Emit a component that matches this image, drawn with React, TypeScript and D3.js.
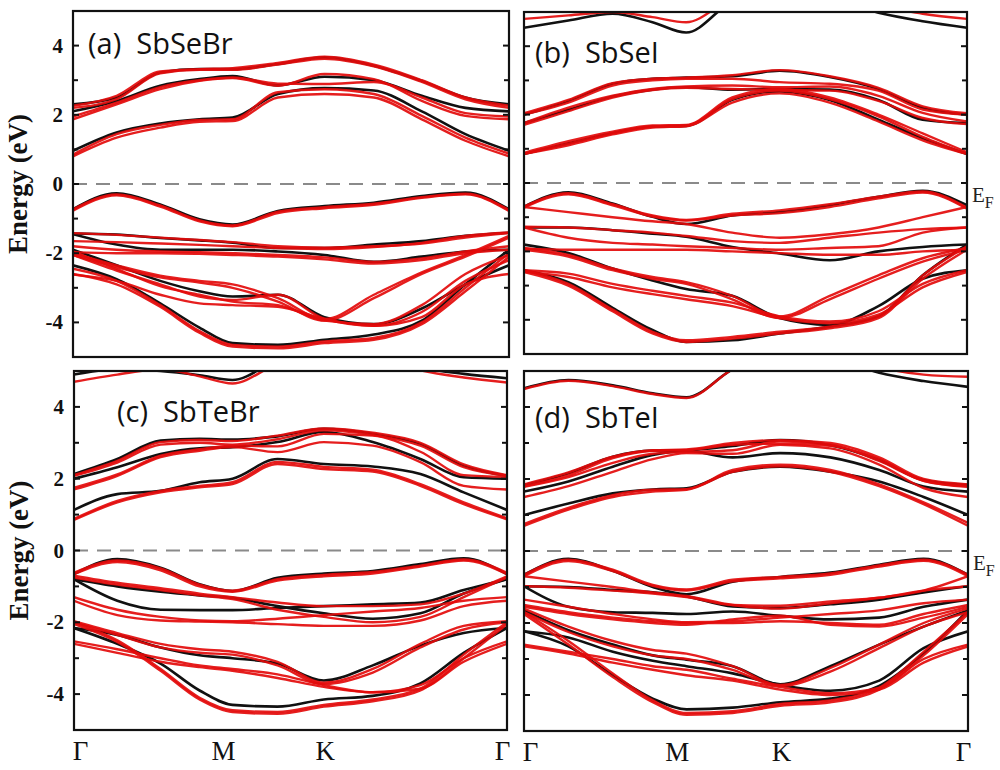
import React from "react";
import * as d3 from "d3";

// k-path sample points (fraction of Γ-M-K-Γ path)
const kPts = [0, 0.1, 0.2, 0.29, 0.366, 0.47, 0.577, 0.69, 0.8, 0.9, 1];
const kLabels = ["Γ", "M", "K", "Γ"];
const kLabelPos = [0.015, 0.345, 0.58, 0.99];
const yTickLabels = [4, 2, 0, -2, -4];

// (a) SbSeBr
const aBlack = [
  [0.96, 1.49, 1.75, 1.87, 1.92, 2.6, 2.77, 2.7, 2.1, 1.44, 0.96],
  [2.1, 2.4, 2.84, 3.03, 3.12, 2.85, 3.1, 3.0, 2.55, 2.2, 2.1],
  [2.3, 2.5, 3.22, 3.32, 3.32, 3.47, 3.66, 3.42, 2.98, 2.5, 2.3],
  [-0.73, -0.27, -0.59, -1.02, -1.17, -0.78, -0.64, -0.54, -0.35, -0.25, -0.73],
  [-1.43, -1.46, -1.56, -1.63, -1.7, -1.85, -1.85, -1.75, -1.65, -1.5, -1.41],
  [-1.45, -1.75, -1.9, -1.9, -1.9, -1.95, -2.05, -2.25, -2.1, -1.95, -1.9],
  [-1.9, -2.35, -2.8, -3.1, -3.25, -3.2, -3.85, -4.05, -3.6, -2.9, -2.35],
  [-2.35, -2.75, -3.45, -4.15, -4.6, -4.65, -4.5, -4.35, -3.95, -2.9, -1.9],
];
const aRed = [
  [0.8, 1.34, 1.63, 1.8, 1.82, 2.5, 2.6, 2.5, 1.87, 1.25, 0.8],
  [0.85, 1.44, 1.71, 1.85, 1.87, 2.65, 2.74, 2.6, 1.97, 1.34, 0.88],
  [1.87, 2.3, 2.74, 2.98, 3.06, 2.84, 3.18, 3.03, 2.4, 1.97, 1.87],
  [1.95, 2.35, 2.8, 3.0, 3.08, 2.9, 2.89, 2.95, 2.5, 2.05, 1.95],
  [2.26, 2.55, 3.25, 3.32, 3.35, 3.5, 3.68, 3.45, 3.0, 2.5, 2.26],
  [2.2, 2.45, 3.2, 3.3, 3.3, 3.45, 3.62, 3.4, 2.95, 2.45, 2.2],
  [-0.73, -0.3, -0.62, -1.05, -1.2, -0.8, -0.67, -0.57, -0.38, -0.28, -0.75],
  [-0.77, -0.33, -0.65, -1.08, -1.22, -0.84, -0.7, -0.6, -0.4, -0.3, -0.78],
  [-1.42, -1.47, -1.55, -1.62, -1.68, -1.8, -1.84, -1.8, -1.72, -1.55, -1.42],
  [-1.65, -1.68, -1.72, -1.76, -1.8, -1.85, -1.88, -1.82, -1.7, -1.5, -1.4],
  [-1.8, -1.9, -1.95, -1.97, -2.0, -2.05, -2.12, -2.25, -2.15, -1.95, -1.8],
  [-1.97, -2.0, -2.0, -2.02, -2.05, -2.1, -2.18, -2.3, -2.2, -2.0, -1.9],
  [-1.95, -2.45, -2.95, -3.2, -3.4, -3.5, -3.95, -4.05, -3.5, -2.6, -2.05],
  [-2.05, -2.5, -2.9, -3.25, -3.35, -3.2, -3.9, -4.1, -3.7, -2.8, -2.2],
  [-2.0, -2.35, -2.65, -2.8, -2.9, -3.3, -3.9, -3.2, -2.55, -2.05, -1.5],
  [-2.05, -2.4, -2.7, -2.85, -3.0, -3.4, -3.95, -3.3, -2.6, -2.1, -1.55],
  [-2.45, -2.8, -3.5, -4.25, -4.65, -4.7, -4.55, -4.45, -4.0, -3.0, -2.0],
  [-2.6, -2.9, -3.55, -4.3, -4.7, -4.75, -4.6, -4.5, -4.05, -3.1, -2.1],
  [-2.62, -2.8, -3.2, -3.45, -3.5, -3.55, -3.9, -4.1, -3.85, -2.9, -2.6],
];

// (b) SbSeI
const bBlack = [
  [4.54, 4.75, 4.95, 4.7, 4.4, 5.3, 5.6, 5.4, 4.98, 4.73, 4.54],
  [0.85, 1.16, 1.46, 1.65, 1.67, 2.43, 2.68, 2.43, 1.85, 1.31, 0.85],
  [1.75, 2.14, 2.53, 2.73, 2.8, 2.73, 2.75, 2.73, 2.43, 1.85, 1.75],
  [2.0, 2.4, 2.9, 3.05, 3.08, 3.12, 3.28, 3.1, 2.75, 2.2, 2.0],
  [-0.69, -0.27, -0.6, -0.99, -1.2, -0.95, -0.85, -0.65, -0.4, -0.23, -0.65],
  [-1.3, -1.3, -1.38, -1.48, -1.57, -1.87, -2.06, -2.26, -2.0, -1.87, -1.8],
  [-1.8, -2.05, -2.5, -2.85, -3.1, -3.3, -3.95, -4.15, -3.6, -2.8, -2.55],
  [-2.55, -2.9, -3.65, -4.3, -4.65, -4.6, -4.4, -4.2, -3.9, -2.7, -1.8],
];
const bRed = [
  [4.8, 4.9, 5.0, 4.85, 4.7, 5.4, 5.7, 5.5, 5.2, 4.95, 4.8],
  [0.85, 1.15, 1.45, 1.65, 1.68, 2.45, 2.7, 2.45, 1.95, 1.35, 0.85],
  [0.88, 1.22, 1.5, 1.68, 1.7, 2.5, 2.75, 2.5, 2.0, 1.45, 0.9],
  [0.85, 1.1, 1.42, 1.62, 1.66, 2.35, 2.62, 2.35, 1.8, 1.25, 0.85],
  [1.7, 2.1, 2.5, 2.72, 2.78, 2.75, 2.72, 2.7, 2.4, 1.9, 1.72],
  [1.75, 2.2, 2.55, 2.75, 2.82, 2.85, 2.8, 2.82, 2.55, 2.05, 1.8],
  [2.04, 2.43, 2.92, 3.05, 3.08, 3.15, 3.3, 3.12, 2.78, 2.24, 2.04],
  [2.0, 2.35, 2.85, 3.0, 3.05, 3.05, 2.95, 2.9, 2.7, 2.15, 2.0],
  [-0.69, -0.3, -0.62, -0.95, -1.08, -0.9, -0.8, -0.62, -0.4, -0.25, -0.72],
  [-0.72, -0.33, -0.65, -0.98, -1.1, -0.95, -0.88, -0.7, -0.45, -0.28, -0.75],
  [-0.7, -0.85, -1.0, -1.12, -1.2, -1.45, -1.6, -1.5, -1.3, -1.0, -0.7],
  [-1.28, -1.3, -1.38, -1.45, -1.55, -1.7, -1.75, -1.6, -1.45, -1.35, -1.3],
  [-1.3, -1.6, -1.75, -1.8, -1.85, -1.9, -1.95, -1.9, -1.85, -1.45, -1.3],
  [-1.92, -1.95, -1.95, -1.95, -1.95, -2.0, -2.05, -2.1, -2.1, -2.0, -1.95],
  [-1.9, -2.1, -2.5, -2.75, -2.9, -3.3, -3.9, -3.3, -2.7, -2.2, -1.9],
  [-1.95, -2.15, -2.55, -2.8, -2.95, -3.4, -3.95, -3.4, -2.8, -2.3, -1.95],
  [-2.55, -2.65, -2.95, -3.15, -3.3, -3.5, -3.9, -4.05, -3.75, -2.95, -2.55],
  [-2.6, -2.75, -3.05, -3.25, -3.4, -3.6, -3.95, -4.1, -3.85, -3.05, -2.6],
  [-2.55, -2.95, -3.7, -4.35, -4.6, -4.5, -4.35, -4.2, -3.9, -2.7, -1.85],
  [-2.6, -3.0, -3.75, -4.4, -4.65, -4.55, -4.4, -4.25, -3.95, -2.8, -1.95],
];

// (c) SbTeBr
const cBlack = [
  [4.9, 5.05, 5.0, 4.88, 4.75, 5.3, 5.6, 5.5, 5.1, 4.92, 4.8],
  [1.13, 1.57, 1.66, 1.9, 2.0, 2.55, 2.41, 2.34, 2.13, 1.62, 1.13],
  [2.0, 2.32, 2.69, 2.85, 2.88, 3.02, 3.3, 3.02, 2.55, 2.04, 2.0],
  [2.13, 2.55, 3.06, 3.11, 3.09, 3.18, 3.39, 3.25, 2.97, 2.36, 2.08],
  [-0.66, -0.24, -0.48, -0.94, -1.13, -0.76, -0.64, -0.57, -0.38, -0.22, -0.66],
  [-0.8, -1.0, -1.15, -1.25, -1.32, -1.55, -1.75, -1.9, -1.75, -1.2, -0.8],
  [-0.8, -1.4, -1.65, -1.66, -1.66, -1.6, -1.55, -1.5, -1.45, -1.1, -0.8],
  [-2.16, -2.35, -2.7, -2.92, -3.0, -3.15, -3.62, -3.2, -2.65, -2.3, -2.16],
  [-2.16, -2.6, -3.15, -3.9, -4.3, -4.35, -4.15, -4.05, -3.7, -2.85, -2.16],
];
const cRed = [
  [4.7, 4.9, 5.05, 4.85, 4.65, 5.2, 5.5, 5.4, 5.02, 4.82, 4.68],
  [0.85, 1.34, 1.62, 1.76, 1.85, 2.41, 2.27, 2.2, 1.8, 1.29, 0.87],
  [0.88, 1.38, 1.66, 1.8, 1.9, 2.47, 2.33, 2.25, 1.85, 1.34, 0.9],
  [1.7, 2.08, 2.6, 2.78, 2.88, 2.74, 3.02, 2.92, 2.46, 1.8, 1.7],
  [1.75, 2.12, 2.64, 2.82, 2.92, 2.9, 3.25, 3.2, 2.75, 2.1, 2.05],
  [2.1, 2.5, 3.02, 3.08, 3.05, 3.2, 3.4, 3.28, 3.0, 2.4, 2.1],
  [2.08, 2.45, 2.95, 3.0, 2.95, 3.1, 3.35, 3.22, 2.92, 2.32, 2.08],
  [-0.62, -0.28, -0.5, -0.95, -1.12, -0.8, -0.68, -0.6, -0.42, -0.25, -0.62],
  [-0.66, -0.32, -0.55, -1.0, -1.15, -0.84, -0.72, -0.64, -0.45, -0.28, -0.66],
  [-0.7, -0.9, -1.05, -1.2, -1.3, -1.45, -1.55, -1.55, -1.5, -1.2, -0.72],
  [-0.75, -0.95, -1.1, -1.25, -1.35, -1.65, -1.85, -2.0, -1.85, -1.3, -0.75],
  [-1.3, -1.65, -1.85, -1.95, -1.97, -1.9, -1.8, -1.7, -1.6, -1.4, -1.3],
  [-1.4, -1.8, -1.95, -1.98, -2.0, -2.05, -2.1, -2.1, -1.95, -1.55, -1.4],
  [-1.97, -2.3, -2.6, -2.75, -2.82, -3.1, -3.68, -3.3, -2.6, -2.1, -1.97],
  [-2.0, -2.35, -2.7, -2.85, -2.9, -3.2, -3.72, -3.4, -2.7, -2.2, -2.0],
  [-2.53, -2.75, -3.0, -3.2, -3.3, -3.45, -3.75, -3.95, -3.75, -3.0, -2.53],
  [-2.6, -2.85, -3.1, -3.25, -3.35, -3.55, -3.8, -3.95, -3.85, -3.1, -2.6],
  [-2.0, -2.5, -3.3, -4.1, -4.45, -4.5, -4.3, -4.15, -3.85, -2.9, -2.0],
  [-2.05, -2.55, -3.35, -4.15, -4.5, -4.55, -4.35, -4.2, -3.9, -3.0, -2.05],
];

// (d) SbTeI
const dBlack = [
  [4.52, 4.75, 4.6, 4.38, 4.27, 5.05, 5.6, 5.4, 4.95, 4.72, 4.56],
  [1.0, 1.32, 1.6, 1.71, 1.74, 2.2, 2.34, 2.2, 1.93, 1.5, 1.0],
  [1.65, 1.93, 2.34, 2.67, 2.78, 2.6, 2.72, 2.6, 2.25, 1.79, 1.65],
  [1.83, 2.16, 2.62, 2.79, 2.8, 2.92, 3.08, 2.94, 2.53, 1.97, 1.83],
  [-0.66, -0.22, -0.55, -1.0, -1.2, -0.85, -0.72, -0.6, -0.38, -0.22, -0.66],
  [-0.98, -1.0, -1.08, -1.15, -1.26, -1.54, -1.58, -1.48, -1.35, -1.15, -0.98],
  [-0.98, -1.55, -1.7, -1.72, -1.75, -1.68, -1.8, -1.9, -1.85, -1.55, -1.35],
  [-1.65, -2.2, -2.6, -2.9, -3.02, -3.2, -3.7, -3.2, -2.6, -2.1, -1.65],
  [-2.23, -2.65, -3.45, -4.1, -4.4, -4.35, -4.2, -4.1, -3.75, -2.85, -1.65],
  [-2.23, -2.4, -2.8, -3.05, -3.2, -3.4, -3.72, -3.88, -3.6, -2.7, -2.23],
];
const dRed = [
  [4.5, 4.73, 4.58, 4.36, 4.25, 5.05, 5.6, 5.5, 5.1, 4.9, 4.84],
  [0.7, 1.15, 1.5, 1.65, 1.7, 2.2, 2.35, 2.2, 1.8, 1.3, 0.7],
  [0.75, 1.2, 1.55, 1.7, 1.72, 2.25, 2.4, 2.25, 1.85, 1.35, 0.78],
  [1.5, 1.8, 2.2, 2.55, 2.72, 2.7, 2.95, 2.85, 2.4, 1.75, 1.5],
  [1.78, 2.05, 2.45, 2.7, 2.75, 2.8, 3.05, 2.95, 2.5, 1.95, 1.78],
  [1.85, 2.18, 2.62, 2.8, 2.82, 3.0, 3.08, 3.0, 2.6, 2.0, 1.85],
  [1.8, 2.1, 2.58, 2.78, 2.8, 2.95, 2.98, 2.92, 2.55, 1.95, 1.8],
  [-0.66, -0.24, -0.52, -0.94, -1.07, -0.8, -0.72, -0.62, -0.4, -0.24, -0.66],
  [-0.7, -0.28, -0.56, -0.97, -1.1, -0.84, -0.76, -0.66, -0.43, -0.27, -0.7],
  [-0.7, -0.85, -1.0, -1.15, -1.25, -1.5, -1.6, -1.45, -1.3, -1.1, -0.7],
  [-0.98, -1.02, -1.1, -1.18, -1.28, -1.5, -1.52, -1.4, -1.3, -1.1, -0.98],
  [-1.35, -1.55, -1.75, -1.9, -1.98, -1.95, -1.85, -1.75, -1.65, -1.45, -1.35],
  [-1.5, -1.7, -1.85, -1.95, -2.0, -2.0, -1.95, -2.0, -2.05, -1.75, -1.5],
  [-1.55, -1.75, -1.9, -2.0, -2.05, -1.9, -1.8, -2.05, -2.1, -1.85, -1.55],
  [-1.6, -2.1, -2.5, -2.75, -2.85, -3.2, -3.72, -3.25, -2.6, -2.0, -1.6],
  [-1.7, -2.25, -2.65, -2.9, -3.0, -3.3, -3.75, -3.35, -2.7, -2.1, -1.7],
  [-2.6, -2.8, -3.0, -3.2, -3.3, -3.55, -3.78, -3.95, -3.8, -3.0, -2.6],
  [-2.65, -2.85, -3.1, -3.3, -3.45, -3.6, -3.85, -4.0, -3.85, -3.1, -2.65],
  [-1.7, -2.5, -3.4, -4.15, -4.5, -4.45, -4.25, -4.15, -3.8, -2.8, -1.7],
  [-1.75, -2.6, -3.5, -4.2, -4.55, -4.5, -4.3, -4.2, -3.85, -2.9, -1.75],
];

const serif = "'Liberation Serif', 'Times New Roman', serif";
const sans = "'Open Sans', 'Noto Sans', sans-serif";

const panels = [
  { id: "a", title: "(a)  SbSeBr", x0: 73, x1: 509, y0: 11, y1: 357, tx: 88, ty: 54, black: aBlack, red: aRed, left: true, ef: false, bottom: false },
  { id: "b", title: "(b)  SbSeI", x0: 524, x1: 967, y0: 12, y1: 354, tx: 535, ty: 63, black: bBlack, red: bRed, left: false, ef: true, bottom: false },
  { id: "c", title: "(c)  SbTeBr", x0: 74, x1: 507, y0: 371, y1: 730, tx: 117, ty: 422, black: cBlack, red: cRed, left: true, ef: false, bottom: true },
  { id: "d", title: "(d)  SbTeI", x0: 524, x1: 968, y0: 371, y1: 731, tx: 535, ty: 428, black: dBlack, red: dRed, left: false, ef: true, bottom: true },
];

function Panel({ p }: { p: any }) {
  const x = d3.scaleLinear().domain([0, 1]).range([p.x0, p.x1]);
  const y = d3.scaleLinear().domain([-5, 5]).range([p.y1, p.y0]);
  const line = d3
    .line<number>()
    .x((d, i) => x(kPts[i]))
    .y((d) => y(d))
    .curve(d3.curveMonotoneX);
  const ticks = y.ticks(10).filter((t) => t > -5 && t < 5);
  const clipId = "clip-" + p.id;
  return (
    <g>
      <defs>
        <clipPath id={clipId}>
          <rect x={p.x0} y={p.y0} width={p.x1 - p.x0} height={p.y1 - p.y0} />
        </clipPath>
      </defs>
      <line x1={p.x0} x2={p.x1} y1={y(0)} y2={y(0)} stroke="#8a8a8a" strokeWidth={2.2} strokeDasharray="14 9" />
      <g clipPath={`url(#${clipId})`} fill="none" strokeLinecap="round">
        {p.black.map((b: number[], i: number) => (
          <path key={"k" + i} d={line(b) || ""} stroke="#111" strokeWidth={2.6} />
        ))}
        {p.red.map((b: number[], i: number) => (
          <path key={"r" + i} d={line(b) || ""} stroke="#e30b0b" strokeWidth={2.4} strokeOpacity={0.92} />
        ))}
      </g>
      {ticks.map((t) => {
        const len = t % 2 === 0 ? 6 : 5;
        return (
          <g key={t}>
            <line x1={p.x0} x2={p.x0 + len} y1={y(t)} y2={y(t)} stroke="#111" strokeWidth={2} />
            <line x1={p.x1} x2={p.x1 - len} y1={y(t)} y2={y(t)} stroke="#111" strokeWidth={2} />
          </g>
        );
      })}
      <rect x={p.x0} y={p.y0} width={p.x1 - p.x0} height={p.y1 - p.y0} fill="none" stroke="#111" strokeWidth={2.2} />
      <text x={p.tx} y={p.ty} fontFamily={sans} fontSize={29} fill="#111" style={{ whiteSpace: "pre" }}>
        {p.title}
      </text>
      {p.left &&
        yTickLabels.map((t) => (
          <text key={t} x={p.x0 - 10} y={y(t) + 7} textAnchor="end" fontFamily={serif} fontWeight="bold" fontSize={21} fill="#111">
            {t}
          </text>
        ))}
      {p.left && (
        <text
          transform={`translate(${p.x0 - 46},${y(0)}) rotate(-90)`}
          textAnchor="middle"
          fontFamily={serif}
          fontWeight="bold"
          fontSize={27}
          fill="#111"
        >
          Energy (eV)
        </text>
      )}
      {p.ef && (
        <text x={p.x1 + 5} y={y(0) + 19} fontFamily={serif} fontSize={21} fill="#222">
          E
          <tspan fontSize={16} dy={6}>
            F
          </tspan>
        </text>
      )}
      {p.bottom &&
        kLabels.map((l, i) => (
          <text key={i} x={x(kLabelPos[i])} y={p.y1 + 30} textAnchor="middle" fontFamily={serif} fontSize={27} fill="#111">
            {l}
          </text>
        ))}
    </g>
  );
}

export default function App() {
  return (
    <svg width={1000} height={770} style={{ position: "absolute", left: 0, top: 0, background: "#fff" }}>
      <rect width={1000} height={770} fill="#fff" />
      {panels.map((p) => (
        <Panel key={p.id} p={p} />
      ))}
    </svg>
  );
}
